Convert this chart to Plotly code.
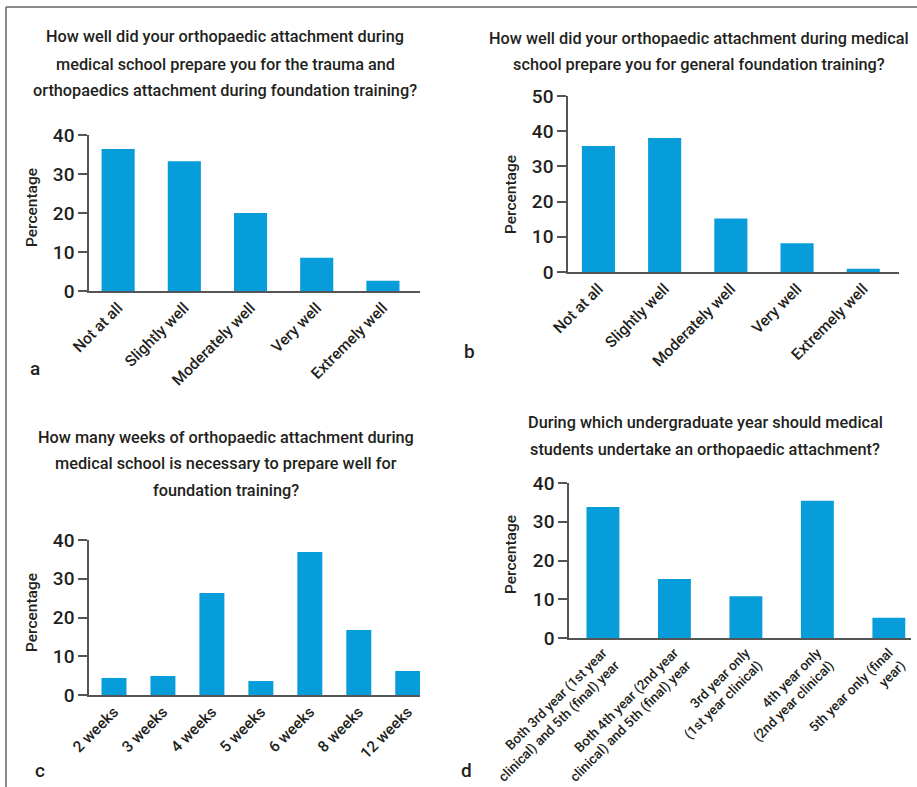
import plotly.graph_objects as go

W, H = 917, 787

# --- data -------------------------------------------------------------
prep_levels = ["Not at all", "Slightly well", "Moderately well", "Very well", "Extremely well"]
trauma_pct = [36.4, 33.3, 20.0, 8.5, 2.6]
general_pct = [35.8, 38.1, 15.2, 8.2, 0.9]

week_labels = ["2 weeks", "3 weeks", "4 weeks", "5 weeks", "6 weeks", "8 weeks", "12 weeks"]
week_pct = [4.4, 4.9, 26.3, 3.6, 36.9, 16.8, 6.2]

year_labels = [
    "Both 3rd year (1st year<br>clinical) and 5th (final) year",
    "Both 4th year (2nd year<br>clinical) and 5th (final) year",
    "3rd year only<br>(1st year clinical)",
    "4th year only<br>(2nd year clinical)",
    "5th year only (final<br>year)",
]
year_pct = [33.8, 15.2, 10.8, 35.4, 5.2]

title_lines = {
    "a": ["How well did your orthopaedic attachment during",
          "medical school prepare you for the trauma and",
          "orthopaedics attachment during foundation training?"],
    "b": ["How well did your orthopaedic attachment during medical",
          "school prepare you for general foundation training?"],
    "c": ["How many weeks of orthopaedic attachment during",
          "medical school is necessary to prepare well for",
          "foundation training?"],
    "d": ["During which undergraduate year should medical",
          "students undertake an orthopaedic attachment?"],
}

# --- style ------------------------------------------------------------
FONT = "Roboto, Liberation Sans, sans-serif"
WEIGHT = 500
TXT = "#231f20"
BAR = "#069dda"
AX = "#555555"


def px_x(p):
    return p / W


def px_y(p):
    return (H - p) / H


fig = go.Figure()

panels = [
    # key, cats, vals, xaxis, yaxis, x-domain px, y px (bottom, top), xrange, yrange, bar width, label size
    ("a", prep_levels, trauma_pct, "x", "y", (89, 420), (291, 135), [-0.44, 4.56], [0, 40], 0.5, 15.5),
    ("b", prep_levels, general_pct, "x2", "y2", (568, 899), (272, 96), [-0.46, 4.54], [0, 50], 0.5, 15.5),
    ("c", week_labels, week_pct, "x3", "y3", (89, 420), (695, 540), [-0.51, 6.25], [0, 40], 0.51, 15.5),
    ("d", year_labels, year_pct, "x4", "y4", (569, 911), (638, 483), [-0.475, 4.31], [0, 40], 0.46, 13.5),
]

layout_axes = {}
for key, cats, vals, xa, ya, xd, yd, xr, yr, bw, lsz in panels:
    fig.add_trace(go.Bar(
        x=list(range(len(cats))), y=vals, xaxis=xa, yaxis=ya,
        marker=dict(color=BAR, line=dict(width=0)), width=bw,
        showlegend=False, hoverinfo="y",
    ))
    xname = "xaxis" + xa[1:]
    yname = "yaxis" + ya[1:]
    layout_axes[xname] = dict(
        domain=[px_x(xd[0]), px_x(xd[1])], anchor=ya, range=xr,
        tickmode="array", tickvals=list(range(len(cats))), ticktext=cats,
        tickangle=-45, ticks="", showline=True, linecolor=AX, linewidth=1.5,
        showgrid=False, zeroline=False, automargin=False,
        tickfont=dict(family=FONT, size=lsz, color=TXT, weight=WEIGHT),
        fixedrange=True,
    )
    layout_axes[yname] = dict(
        domain=[px_y(yd[0]), px_y(yd[1])], anchor=xa, range=yr, dtick=10,
        ticks="outside", ticklen=9, tickwidth=1.5, tickcolor=AX,
        showline=True, linecolor=AX, linewidth=1.5,
        showgrid=False, zeroline=False, automargin=False,
        tickfont=dict(family=FONT, size=19, color=TXT, weight=WEIGHT),
        fixedrange=True,
    )

fig.update_layout(**layout_axes)

annotations = []

# question titles, one annotation per line
title_x = {"a": 225, "b": 699, "c": 226, "d": 705}
title_y = {"a": [37, 64, 91], "b": [39, 65], "c": [437, 463, 490], "d": [422, 449]}
for key, lines in title_lines.items():
    for line, ly in zip(lines, title_y[key]):
        annotations.append(dict(
            text=line, x=px_x(title_x[key]), y=px_y(ly), xref="paper", yref="paper",
            xanchor="center", yanchor="middle", showarrow=False,
            font=dict(family=FONT, size=16.3, color=TXT, weight=WEIGHT),
        ))

# y-axis titles
ytitle_pos = {"a": (32, 208), "b": (511, 195), "c": (32, 613), "d": (511, 555)}
for key, (tx, ty) in ytitle_pos.items():
    annotations.append(dict(
        text="Percentage", x=px_x(tx), y=px_y(ty), xref="paper", yref="paper",
        xanchor="center", yanchor="middle", showarrow=False, textangle=-90,
        font=dict(family=FONT, size=15.5, color=TXT, weight=WEIGHT),
    ))

# panel letters
letter_pos = {"a": (35, 368), "b": (470, 352), "c": (40, 770), "d": (466, 770)}
for key, (lx, ly) in letter_pos.items():
    annotations.append(dict(
        text=key, x=px_x(lx), y=px_y(ly), xref="paper", yref="paper",
        xanchor="center", yanchor="middle", showarrow=False,
        font=dict(family=FONT, size=19, color=TXT, weight=WEIGHT),
    ))

# frame along the left and top edges
shapes = [
    dict(type="line", xref="paper", yref="paper", x0=px_x(6), x1=px_x(6), y0=0, y1=px_y(7),
         line=dict(color="#666666", width=1.5)),
    dict(type="line", xref="paper", yref="paper", x0=px_x(6), x1=1, y0=px_y(7), y1=px_y(7),
         line=dict(color="#666666", width=1.5)),
]

fig.update_layout(
    width=W, height=H, margin=dict(l=0, r=0, t=0, b=0, autoexpand=False),
    paper_bgcolor="white", plot_bgcolor="white",
    annotations=annotations, shapes=shapes,
    font=dict(family=FONT, color=TXT),
)

fig.write_html("out.html", config={"displayModeBar": False})
